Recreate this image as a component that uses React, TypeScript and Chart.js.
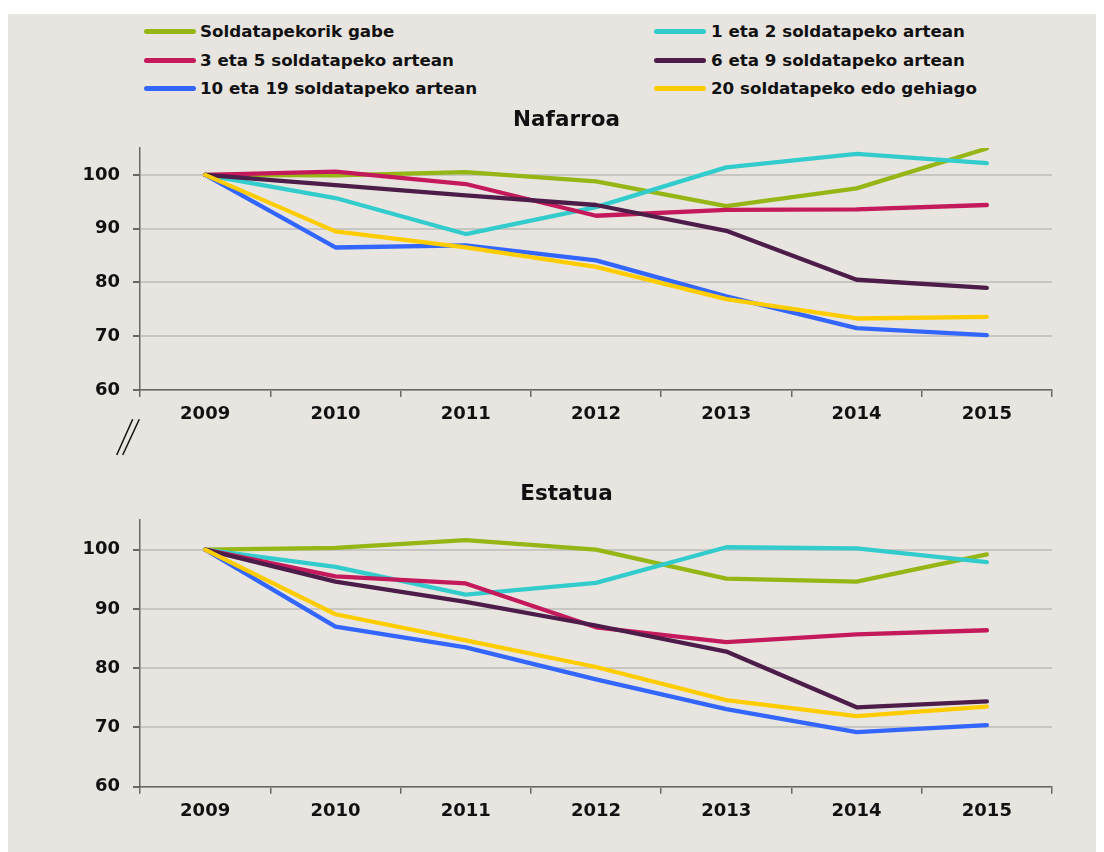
import React, { useEffect, useRef } from "react";
import { Chart, registerables } from "chart.js";

Chart.register(...registerables);

const years = ["2009", "2010", "2011", "2012", "2013", "2014", "2015"];
const seriesNames = [
  "Soldatapekorik gabe",
  "1 eta 2 soldatapeko artean",
  "3 eta 5 soldatapeko artean",
  "6 eta 9 soldatapeko artean",
  "10 eta 19 soldatapeko artean",
  "20 soldatapeko edo gehiago",
];
const seriesColors = ["#95b614", "#33cccc", "#c41a5c", "#4d1d4a", "#3366ff", "#ffcc00"];

const nafSoldatapekorikGabe = [100, 99.9, 100.5, 98.8, 94.2, 97.5, 104.9];
const naf1eta2 = [100, 95.7, 89.0, 94.0, 101.4, 103.9, 102.2];
const naf3eta5 = [100, 100.6, 98.3, 92.4, 93.5, 93.6, 94.4];
const naf6eta9 = [100, 98.1, 96.2, 94.4, 89.6, 80.5, 79.0];
const naf10eta19 = [100, 86.5, 86.9, 84.1, 77.4, 71.5, 70.2];
const naf20edoGehiago = [100, 89.5, 86.5, 82.9, 76.9, 73.3, 73.6];

const estSoldatapekorikGabe = [100, 100.3, 101.6, 100.0, 95.1, 94.6, 99.2];
const est1eta2 = [100, 97.1, 92.4, 94.4, 100.4, 100.2, 97.9];
const est3eta5 = [100, 95.5, 94.3, 86.9, 84.4, 85.7, 86.4];
const est6eta9 = [100, 94.6, 91.2, 87.2, 82.8, 73.4, 74.4];
const est10eta19 = [100, 87.0, 83.5, 78.1, 73.1, 69.2, 70.4];
const est20edoGehiago = [100, 89.1, 84.7, 80.2, 74.6, 71.9, 73.5];

const nafarroaSeries = [nafSoldatapekorikGabe, naf1eta2, naf3eta5, naf6eta9, naf10eta19, naf20edoGehiago];
const estatuaSeries = [estSoldatapekorikGabe, est1eta2, est3eta5, est6eta9, est10eta19, est20edoGehiago];

const yMin = 60;
const yMax = 105;
const yStep = 10;

const FONT = "'DejaVu Sans', sans-serif";
const BG = "#e8e5e0";
const AXIS = "#6a6866";
const GRID = "#c8c6c3";

const breakMarkPlugin = {
  id: "breakMark",
  afterDraw(chart: any, _args: any, opts: any) {
    if (!opts || !opts.show) return;
    const { left, bottom } = chart.chartArea;
    const ctx = chart.ctx;
    ctx.save();
    ctx.strokeStyle = "#111";
    ctx.lineWidth = 1.5;
    ctx.beginPath();
    ctx.moveTo(left - 7.3, bottom + 29.3);
    ctx.lineTo(left - 23.3, bottom + 65);
    ctx.moveTo(left - 0.7, bottom + 29.3);
    ctx.lineTo(left - 17.3, bottom + 65);
    ctx.stroke();
    ctx.restore();
  },
};

function makeConfig(title: string, series: number[][], pad: any, titlePadBottom: number, showBreak: boolean): any {
  return {
    type: "line",
    data: {
      labels: years,
      datasets: series.map((vals, i) => ({
        label: seriesNames[i],
        data: vals,
        borderColor: seriesColors[i],
        backgroundColor: seriesColors[i],
        borderWidth: 4.3,
        borderCapStyle: "round",
        borderJoinStyle: "round",
        pointRadius: 0,
        tension: 0,
        fill: false,
        order: series.length - 1 - i,
      })),
    },
    options: {
      responsive: false,
      animation: false,
      layout: { padding: pad },
      plugins: {
        legend: { display: false },
        tooltip: { enabled: false },
        title: {
          display: true,
          text: title,
          color: "#111",
          font: { family: FONT, size: 21.5, weight: "bold", lineHeight: 1.2 },
          padding: { top: 0, bottom: titlePadBottom },
        },
        breakMark: { show: showBreak },
      },
      scales: {
        x: {
          type: "category",
          offset: true,
          grid: {
            offset: true,
            drawOnChartArea: false,
            drawTicks: true,
            tickLength: 7,
            color: AXIS,
            tickColor: AXIS,
            lineWidth: 1.5,
          },
          border: { display: true, color: AXIS, width: 1.5 },
          ticks: {
            color: "#111",
            padding: 7,
            maxRotation: 0,
            autoSkip: false,
            font: { family: FONT, size: 18, weight: "bold" },
          },
          afterFit: (scale: any) => {
            scale.height = 50;
          },
        },
        y: {
          type: "linear",
          min: yMin,
          max: yMax,
          ticks: {
            stepSize: yStep,
            color: "#111",
            padding: 13,
            font: { family: FONT, size: 18, weight: "bold" },
          },
          afterBuildTicks: (scale: any) => {
            scale.ticks = scale.ticks.filter((t: any) => t.value % yStep === 0);
          },
          grid: {
            color: GRID,
            lineWidth: 2,
            tickLength: 7,
            tickColor: AXIS,
            drawTicks: true,
          },
          border: { display: true, color: AXIS, width: 1.5 },
          afterFit: (scale: any) => {
            scale.width = 59;
          },
        },
      },
    },
    plugins: [breakMarkPlugin],
  };
}

export default function App() {
  const ref1 = useRef<HTMLCanvasElement | null>(null);
  const ref2 = useRef<HTMLCanvasElement | null>(null);

  useEffect(() => {
    document.body.style.overflow = "hidden";
    const c1 = new Chart(
      ref1.current as HTMLCanvasElement,
      makeConfig("Nafarroa", nafarroaSeries, { top: 93.2, left: 73, right: 51, bottom: 20 }, 15.0, true)
    );
    const c2 = new Chart(
      ref2.current as HTMLCanvasElement,
      makeConfig("Estatua", estatuaSeries, { top: 21.2, left: 73, right: 51, bottom: 15.3 }, 13.0, false)
    );
    return () => {
      c1.destroy();
      c2.destroy();
    };
  }, []);

  const legendRows = [31, 60, 88].map((y) => y - 14);
  const legendCols = [
    { line: 144 - 8, text: 200 - 8 },
    { line: 654 - 8, text: 711 - 8 },
  ];

  return (
    <div style={{ paddingTop: 6 }}>
      <div style={{ position: "relative", width: 1095, height: 838, background: BG, overflow: "hidden" }}>
        {seriesNames.map((name, i) => {
          const row = Math.floor(i / 2);
          const col = legendCols[i % 2];
          const y = legendRows[row];
          return (
            <React.Fragment key={name}>
              <div
                style={{
                  position: "absolute",
                  left: col.line,
                  top: y - 2,
                  width: 52,
                  height: 4.5,
                  borderRadius: 3,
                  background: seriesColors[i],
                }}
              />
              <div
                style={{
                  position: "absolute",
                  left: col.text,
                  top: y - 11,
                  height: 22,
                  lineHeight: "22px",
                  fontFamily: FONT,
                  fontWeight: "bold",
                  fontSize: 16.7,
                  color: "#111",
                  whiteSpace: "nowrap",
                }}
              >
                {name}
              </div>
            </React.Fragment>
          );
        })}
        <canvas ref={ref1} width={1095} height={446} style={{ position: "absolute", left: 0, top: 0, display: "block" }} />
        <canvas ref={ref2} width={1095} height={392} style={{ position: "absolute", left: 0, top: 446, display: "block" }} />
      </div>
    </div>
  );
}
